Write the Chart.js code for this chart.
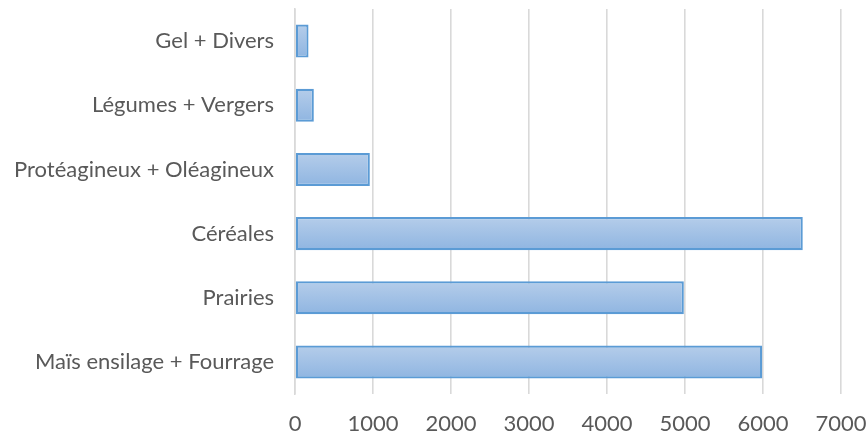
<!DOCTYPE html>
<html>
<head>
<meta charset="utf-8">
<script src="https://cdn.jsdelivr.net/npm/chart.js@4"></script>
<style>
  html, body { margin: 0; padding: 0; background: #fff; }
</style>
</head>
<body>
<canvas id="barChart" width="868" height="438"></canvas>
<script>
// categories top to bottom
const labels = ['Gel + Divers', 'Légumes + Vergers', 'Protéagineux + Oléagineux', 'Céréales', 'Prairies', 'Maïs ensilage + Fourrage'];
const values = [173, 241, 959, 6510, 4985, 5990];
const xTicks = [0, 1000, 2000, 3000, 4000, 5000, 6000, 7000];

// gradient for each bar, light on top, darker at bottom
function barFill(ctx) {
    const chart = ctx.chart;
    if (!chart.chartArea || ctx.dataIndex === undefined) return '#a3c1e6';
    const y = chart.scales.y;
    const band = y.height / labels.length;
    const yc = y.getPixelForValue(ctx.dataIndex);
    const g = chart.ctx.createLinearGradient(0, yc - band * 0.26, 0, yc + band * 0.26);
    g.addColorStop(0, '#b5cdea');
    g.addColorStop(1, '#8fb5e1');
    return g;
}

const data = {
    labels: labels,
    datasets: [{
        data: values,
        backgroundColor: barFill,
        borderColor: '#5b9bd5',
        borderWidth: 2.2,
        borderSkipped: false,
        categoryPercentage: 1,
        barPercentage: 0.515
    }]
};

const config = {
    type: 'bar',
    data,
    options: {
        indexAxis: 'y',
        responsive: false,
        animation: false,
        layout: { padding: { top: 9, right: 27, bottom: 0, left: 14 } },
        plugins: { legend: { display: false }, tooltip: { enabled: false } },
        scales: {
            x: {
                min: 0,
                max: 7000,
                afterBuildTicks: (axis) => { axis.ticks = xTicks.map(v => ({ value: v })); },
                grid: { color: '#d9d9d9', lineWidth: 1.6, drawTicks: true, tickLength: 16, tickColor: 'rgba(0,0,0,0)' },
                border: { display: false },
                ticks: { color: '#595959', font: { family: 'Lato', size: 22, lineHeight: 1.27 }, padding: 0, callback: (v) => String(v) }
            },
            y: {
                grid: { display: true, drawOnChartArea: false, drawTicks: true, tickLength: 21, tickColor: 'rgba(0,0,0,0)' },
                border: { display: true, color: '#d9d9d9', width: 1.6 },
                ticks: { color: '#595959', font: { family: 'Lato', size: 22, lineHeight: 0.8 }, padding: 0 }
            }
        }
    }
};

var barChart = new Chart(document.getElementById('barChart'), config);
</script>
</body>
</html>
